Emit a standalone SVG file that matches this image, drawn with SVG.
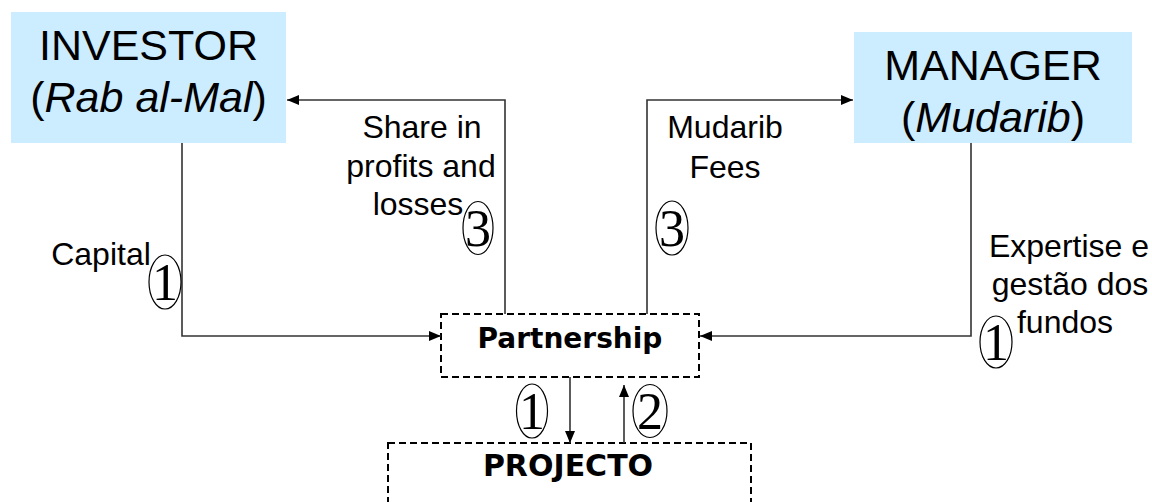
<svg xmlns="http://www.w3.org/2000/svg" width="1152" height="502" viewBox="0 0 1152 502">
  <defs>
    <marker id="arrow" markerWidth="12" markerHeight="10" refX="12" refY="5" orient="auto" markerUnits="userSpaceOnUse">
      <path d="M0,0 L12,5 L0,10 Z" fill="#000"/>
    </marker>
    <style>
      .party { fill: #CCECFF; }
      .title { font-family: "Liberation Sans", Arial, sans-serif; font-size: 43px; fill: #000; text-anchor: middle; }
      .it { font-style: italic; }
      .label { font-family: "Liberation Sans", Arial, sans-serif; font-size: 32px; fill: #000; text-anchor: middle; }
      .entity { fill: #fff; stroke: #000; stroke-width: 2; stroke-dasharray: 7 4; }
      .entity-text { font-family: "DejaVu Sans", Verdana, sans-serif; font-weight: bold; fill: #000; text-anchor: middle; }
      .flow { fill: none; stroke: #333; stroke-width: 1.6; }
      .step { fill: #fff; stroke: #000; stroke-width: 1.2; }
      .step-num { font-family: "Liberation Serif", "Times New Roman", serif; font-size: 52px; fill: #000; text-anchor: middle; }
    </style>
  </defs>

  <rect width="1152" height="502" fill="#fff"/>

  <!-- Parties -->
  <g id="investor">
    <rect class="party" x="11" y="12" width="275" height="131"/>
    <text class="title" x="148.5" y="60">INVESTOR</text>
    <text class="title" x="148.5" y="112">(<tspan class="it">Rab al-Mal</tspan>)</text>
  </g>

  <g id="manager">
    <rect class="party" x="854" y="32" width="278" height="111"/>
    <text class="title" x="993" y="80">MANAGER</text>
    <text class="title" x="993" y="132">(<tspan class="it">Mudarib</tspan>)</text>
  </g>

  <g id="partnership">
    <rect class="entity" x="441" y="314" width="258" height="63"/>
    <text class="entity-text" x="570" y="348" font-size="28">Partnership</text>
  </g>

  <g id="projecto">
    <rect class="entity" x="388" y="443" width="363" height="80"/>
    <text class="entity-text" x="568" y="476" font-size="30">PROJECTO</text>
  </g>

  <!-- Flows between parties -->
  <g id="connectors">
    <!-- capital from investor -->
    <path class="flow" d="M182,143 V336 H441" marker-end="url(#arrow)"/>
    <!-- expertise from manager -->
    <path class="flow" d="M971,143 V336 H700" marker-end="url(#arrow)"/>
    <!-- profit share back to investor -->
    <path class="flow" d="M505,314 V100 H287" marker-end="url(#arrow)"/>
    <!-- fees to manager -->
    <path class="flow" d="M647,314 V100 H853" marker-end="url(#arrow)"/>
    <!-- funding into the project -->
    <path class="flow" d="M570,377 V443" marker-end="url(#arrow)"/>
    <!-- returns from the project -->
    <path class="flow" d="M624,443 V385" marker-end="url(#arrow)"/>
  </g>

  <!-- Flow labels -->
  <g id="labels">
    <text class="label" x="101" y="265">Capital</text>
    <text class="label" x="422" y="138">Share in</text>
    <text class="label" x="421" y="177">profits and</text>
    <text class="label" x="418" y="215">losses</text>
    <text class="label" x="725" y="138">Mudarib</text>
    <text class="label" x="725" y="178">Fees</text>
    <text class="label" x="1069" y="257">Expertise e</text>
    <text class="label" x="1070" y="295">gestão dos</text>
    <text class="label" x="1065" y="333">fundos</text>
  </g>

  <!-- Step markers -->
  <g id="steps">
    <ellipse class="step" cx="165" cy="282" rx="16" ry="27"/>
    <text class="step-num" x="165" y="300">1</text>

    <ellipse class="step" cx="478" cy="228" rx="15" ry="26.5"/>
    <text class="step-num" x="478" y="246">3</text>

    <ellipse class="step" cx="672" cy="228" rx="16" ry="27"/>
    <text class="step-num" x="672" y="246">3</text>

    <ellipse class="step" cx="996" cy="342" rx="16" ry="26"/>
    <text class="step-num" x="996" y="360">1</text>

    <ellipse class="step" cx="532" cy="411" rx="15.5" ry="27"/>
    <text class="step-num" x="532" y="429">1</text>

    <ellipse class="step" cx="650" cy="411" rx="17" ry="26.5"/>
    <text class="step-num" x="650" y="429">2</text>
  </g>
</svg>
